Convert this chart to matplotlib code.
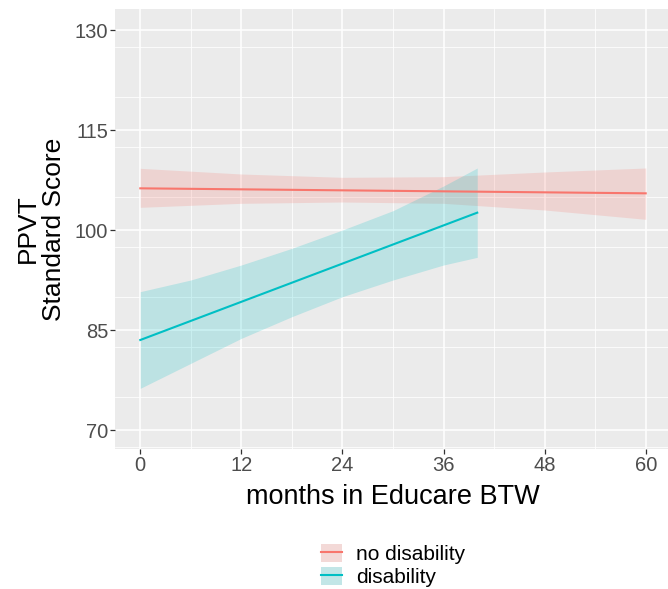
import matplotlib
matplotlib.use("Agg")
import matplotlib.pyplot as plt
from matplotlib.patches import Patch
from matplotlib.lines import Line2D
from matplotlib.legend_handler import HandlerTuple
from matplotlib.ticker import MultipleLocator

plt.rcParams['font.family'] = ['Liberation Sans', 'DejaVu Sans']

# data
nodis_x = [0, 12, 24, 36, 48, 60]
nodis_fit = [106.25, 106.1, 105.95, 105.8, 105.65, 105.5]
nodis_upper = [109.25, 108.4, 107.9, 108.0, 108.7, 109.3]
nodis_lower = [103.4, 104.0, 104.2, 104.0, 103.0, 101.6]

dis_x = [0, 6, 12, 18, 24, 30, 36, 40]
dis_upper = [90.75, 92.5, 94.75, 97.25, 100.0, 102.9, 106.6, 109.3]
dis_lower = [76.25, 80.0, 83.75, 87.0, 90.0, 92.5, 94.75, 95.9]
dis_fit_x = [0, 40]
dis_fit = [83.5, 102.6]

x_ticks = [0, 12, 24, 36, 48, 60]
y_ticks = [70, 85, 100, 115, 130]
labels = ["no disability", "disability"]
colors = ["#F8766D", "#00BFC4"]
key_fill = ["#F3D9D7", "#C2E6E7"]

W, H = 668, 589
fig = plt.figure(figsize=(W / 100, H / 100), dpi=100)
left, right, top, bottom = 115, 671, 9, 449
ax = fig.add_axes([left / W, 1 - bottom / H, (right - left) / W, (bottom - top) / H])
ax.set_facecolor("#EBEBEB")
for s in ax.spines.values():
    s.set_visible(False)

ax.fill_between(nodis_x, nodis_lower, nodis_upper, color=colors[0], alpha=0.2, lw=0, zorder=3)
ax.plot(nodis_x, nodis_fit, color=colors[0], lw=1.5, zorder=4)
ax.fill_between(dis_x, dis_lower, dis_upper, color=colors[1], alpha=0.2, lw=0, zorder=3)
ax.plot(dis_fit_x, dis_fit, color=colors[1], lw=1.5, zorder=4)

ax.set_xlim(-3, 63)
ax.set_ylim(67.15, 133.15)
ax.set_xticks(x_ticks)
ax.set_yticks(y_ticks)
ax.xaxis.set_minor_locator(MultipleLocator(6))
ax.yaxis.set_minor_locator(MultipleLocator(7.5))
ax.grid(which="major", color="white", lw=1.1, zorder=1)
ax.grid(which="minor", color="white", lw=0.55, zorder=1)
ax.set_axisbelow(True)
ax.tick_params(which="major", length=3.5, width=0.9, color="#333333",
               labelsize=14.5, labelcolor="#4D4D4D", pad=1.5)
ax.tick_params(which="minor", length=0)

ax.set_xlabel("months in Educare BTW", fontsize=19.5, color="black")
ax.set_ylabel("PPVT\nStandard Score", fontsize=19, color="black", linespacing=1.1)
ax.xaxis.set_label_coords(0.5, -0.08)
ax.yaxis.set_label_coords(-0.088, 0.5)

handles = []
for c, kf in zip(colors, key_fill):
    handles.append((Patch(facecolor=kf, edgecolor="none"),
                    Line2D([], [], color=c, lw=1.5)))
leg = fig.legend(handles, labels, loc="lower center",
                 bbox_to_anchor=(393 / W, 2 / H), frameon=False, fontsize=15,
                 handler_map={tuple: HandlerTuple(ndivide=1, pad=0)},
                 handlelength=1.03, handleheight=1.0, handletextpad=0.65,
                 labelspacing=0.12, borderpad=0.0, borderaxespad=0.0)

fig.savefig("out.png", dpi=100)
